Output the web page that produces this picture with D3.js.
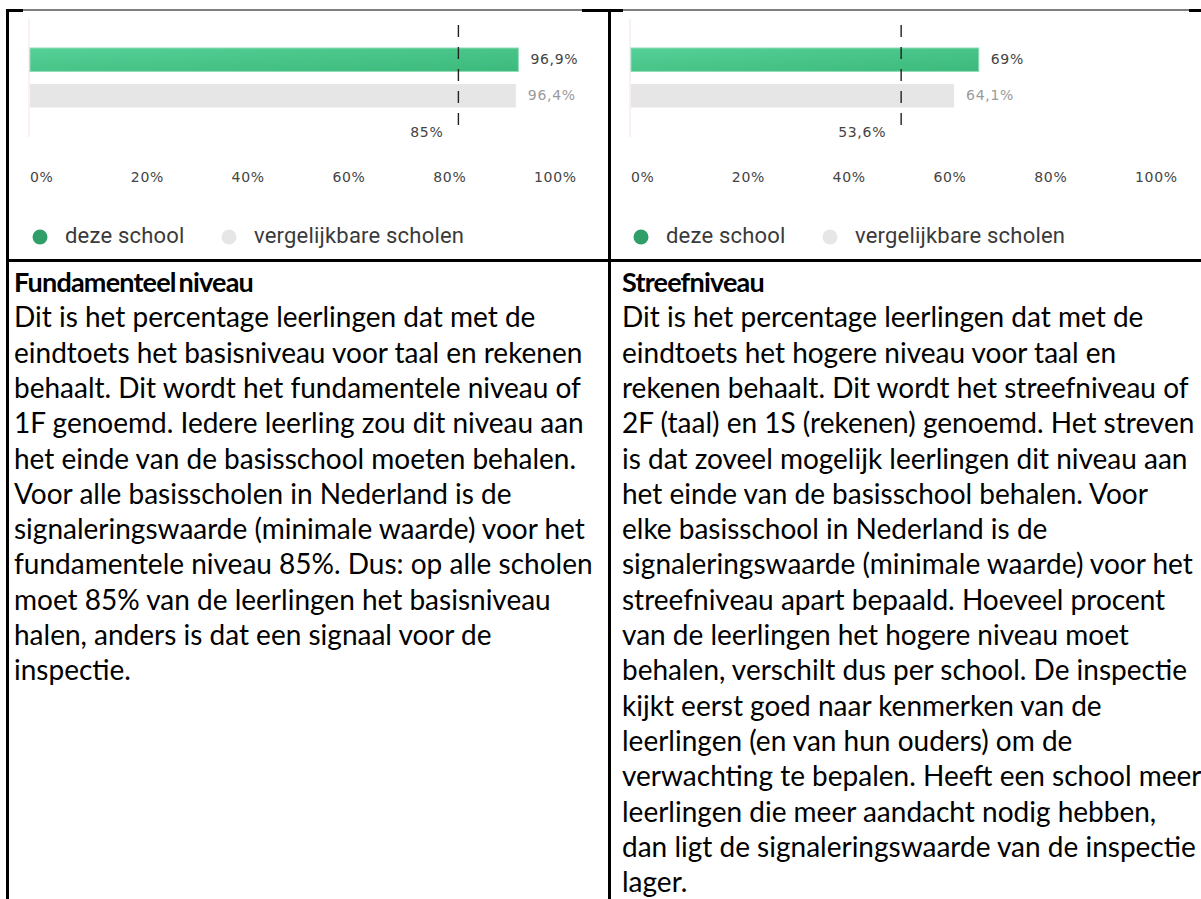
<!DOCTYPE html>
<html>
<head>
<meta charset="utf-8">
<script src="https://cdn.jsdelivr.net/npm/d3@7"></script>
<style>
  body { margin: 0; background: #fff; }
  svg { display: block; }
</style>
</head>
<body>
<div id="chart"></div>
<script>
// data
const panels = ["Fundamenteel niveau", "Streefniveau"];
const seriesNames = ["deze school", "vergelijkbare scholen"];
const schoolValues = [96.9, 69];
const compareValues = [96.4, 64.1];
const signalValues = [85, 53.6];
const tickValues = [0, 20, 40, 60, 80, 100];

const leftLines = [
  "Dit is het percentage leerlingen dat met de",
  "eindtoets het basisniveau voor taal en rekenen",
  "behaalt. Dit wordt het fundamentele niveau of",
  "1F genoemd. Iedere leerling zou dit niveau aan",
  "het einde van de basisschool moeten behalen.",
  "Voor alle basisscholen in Nederland is de",
  "signaleringswaarde (minimale waarde) voor het",
  "fundamentele niveau 85%. Dus: op alle scholen",
  "moet 85% van de leerlingen het basisniveau",
  "halen, anders is dat een signaal voor de",
  "inspectie."
];
const rightLines = [
  "Dit is het percentage leerlingen dat met de",
  "eindtoets het hogere niveau voor taal en",
  "rekenen behaalt. Dit wordt het streefniveau of",
  "2F (taal) en 1S (rekenen) genoemd. Het streven",
  "is dat zoveel mogelijk leerlingen dit niveau aan",
  "het einde van de basisschool behalen. Voor",
  "elke basisschool in Nederland is de",
  "signaleringswaarde (minimale waarde) voor het",
  "streefniveau apart bepaald. Hoeveel procent",
  "van de leerlingen het hogere niveau moet",
  "behalen, verschilt dus per school. De inspectie",
  "kijkt eerst goed naar kenmerken van de",
  "leerlingen (en van hun ouders) om de",
  "verwachting te bepalen. Heeft een school meer",
  "leerlingen die meer aandacht nodig hebben,",
  "dan ligt de signaleringswaarde van de inspectie",
  "lager."
];

const W = 1201, H = 899;
const svg = d3.select("#chart").append("svg")
  .attr("width", W)
  .attr("height", H);

const defs = svg.append("defs");
const grad = defs.append("linearGradient")
  .attr("id", "greenGrad")
  .attr("x1", "0%").attr("y1", "0%")
  .attr("x2", "100%").attr("y2", "100%");
grad.append("stop").attr("offset", "0%").attr("stop-color", "#55d097");
grad.append("stop").attr("offset", "100%").attr("stop-color", "#3cb97b");

const fmt = (v) => String(v).replace(".", ",") + "%";
const color = d3.scaleOrdinal().domain(seriesNames).range(["url(#greenGrad)", "#e6e6e6"]);
const dotColor = d3.scaleOrdinal().domain(seriesNames).range(["#2f9e68", "#e6e6e6"]);
const labelColor = d3.scaleOrdinal().domain(seriesNames).range(["#444", "#9a9a9a"]);

const chartFont = "'DejaVu Sans', sans-serif";

// twee grafieken naast elkaar
const origins = [30, 631];
const y = d3.scaleBand().domain(seriesNames).range([48, 107.5]).paddingInner(0.35);

panels.forEach((name, i) => {
  const x0 = origins[i];
  const x = d3.scaleLinear().domain([0, 100]).range([x0, x0 + 504]);
  const g = svg.append("g");
  const vals = [schoolValues[i], compareValues[i]];

  // as
  g.append("line")
    .attr("x1", x0 - 1).attr("x2", x0 - 1)
    .attr("y1", 19).attr("y2", 137)
    .attr("stroke", "#f2e2e8");

  g.selectAll("rect.bar")
    .data(seriesNames)
    .join("rect")
    .attr("class", "bar")
    .attr("x", x(0))
    .attr("y", (d) => y(d))
    .attr("width", (d, j) => x(vals[j]) - x(0))
    .attr("height", y.bandwidth())
    .attr("fill", (d) => color(d))
    .attr("stroke", (d, j) => j === 0 ? "#8fdcb7" : "none")
    .attr("stroke-width", 1);

  g.selectAll("text.val")
    .data(seriesNames)
    .join("text")
    .attr("class", "val")
    .attr("x", (d, j) => x(vals[j]) + 12)
    .attr("y", (d) => y(d) + y.bandwidth() / 2)
    .attr("dominant-baseline", "middle")
    .attr("font-family", chartFont)
    .attr("font-size", 14)
    .attr("letter-spacing", 0.7)
    .attr("fill", (d) => labelColor(d))
    .text((d, j) => fmt(vals[j]));

  // signaleringswaarde
  g.append("line")
    .attr("x1", x(signalValues[i])).attr("x2", x(signalValues[i]))
    .attr("y1", 25).attr("y2", 128)
    .attr("stroke", "#222")
    .attr("stroke-width", 1.4)
    .attr("stroke-dasharray", "12,10");

  g.append("text")
    .attr("x", x(signalValues[i]) - 15)
    .attr("y", 133)
    .attr("text-anchor", "end")
    .attr("dominant-baseline", "middle")
    .attr("font-family", chartFont)
    .attr("font-size", 14)
    .attr("letter-spacing", 0.7)
    .attr("fill", "#444")
    .text(fmt(signalValues[i]));

  g.selectAll("text.tick")
    .data(tickValues)
    .join("text")
    .attr("class", "tick")
    .attr("x", (d) => x(d))
    .attr("y", 178)
    .attr("dominant-baseline", "middle")
    .attr("font-family", chartFont)
    .attr("font-size", 14)
    .attr("letter-spacing", 0.7)
    .attr("fill", "#444")
    .text((d) => d + "%");

  // legenda
  const leg = g.selectAll("g.leg")
    .data(seriesNames)
    .join("g")
    .attr("class", "leg")
    .attr("transform", (d, j) => `translate(${x0 + 10 + j * 189},237)`);
  leg.append("circle").attr("r", 7.5).attr("fill", (d) => dotColor(d));
  leg.append("text")
    .attr("x", 25)
    .attr("dominant-baseline", "middle")
    .attr("font-family", "Roboto, sans-serif")
    .attr("font-size", 22)
    .attr("letter-spacing", 0.2)
    .attr("fill", "#3a3a3a")
    .text((d) => d);
});

// tekstkolommen
const textCols = [
  { x: 14, title: panels[0], lines: leftLines },
  { x: 622, title: panels[1], lines: rightLines }
];
const lineStep = 35.3;
textCols.forEach((c) => {
  const t = svg.append("text")
    .attr("font-family", "Lato, 'Open Sans', sans-serif")
    .attr("font-size", 28)
    .attr("fill", "#000");
  t.append("tspan")
    .attr("x", c.x).attr("y", 292)
    .attr("font-weight", "bold")
    .attr("font-size", 27)
    .attr("letter-spacing", -0.8)
    .attr("word-spacing", -3)
    .text(c.title);
  c.lines.forEach((l, k) => {
    t.append("tspan")
      .attr("x", c.x)
      .attr("y", 292 + (k + 1) * lineStep)
      .text(l);
  });
});

// tabelranden
const border = svg.append("g").attr("stroke", "#000");
border.append("line").attr("x1", 6).attr("x2", W).attr("y1", 10).attr("y2", 10).attr("stroke-width", 1.2);
[[6, 23], [582, 623], [1189, W]].forEach(([a, b]) => {
  border.append("line").attr("x1", a).attr("x2", b).attr("y1", 10.5).attr("y2", 10.5).attr("stroke-width", 3);
});
border.append("line").attr("x1", 7.5).attr("x2", 7.5).attr("y1", 9).attr("y2", H).attr("stroke-width", 3);
border.append("line").attr("x1", 609.5).attr("x2", 609.5).attr("y1", 9).attr("y2", H).attr("stroke-width", 3);
border.append("line").attr("x1", 6).attr("x2", W).attr("y1", 260.5).attr("y2", 260.5).attr("stroke-width", 3);
</script>
</body>
</html>
